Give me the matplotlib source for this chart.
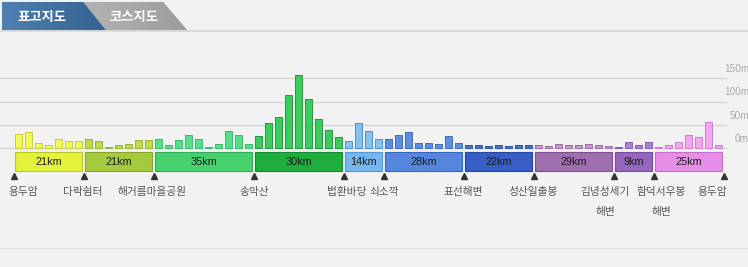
import matplotlib
matplotlib.use("Agg")
import matplotlib.pyplot as plt
from matplotlib.patches import Polygon
import numpy as np

plt.rcParams['font.family'] = ['Noto Sans CJK KR', 'DejaVu Sans']

# ---------------- data ----------------
elevations = [30, 34, 11, 6, 19, 15, 15,
              19, 15, 3, 6, 9, 17, 17,
              19, 6, 17, 27, 19, 3, 9, 37, 29, 9,
              25, 54, 66, 113, 157, 105, 62, 38, 24,
              14, 53, 36, 19,
              19, 29, 34, 10, 10, 8, 25, 10,
              6, 7, 4, 6, 4, 6, 6,
              6, 4, 9, 6, 6, 9, 6, 4,
              2, 12, 6, 12,
              2, 6, 12, 28, 24, 56, 6]
segment_km = ["21km", "21km", "35km", "30km", "14km", "28km", "22km", "29km", "9km", "25km"]
segment_bars = [7, 7, 10, 9, 4, 8, 7, 8, 4, 7]
stops = ["용두암", "다락쉼터", "해거름마을공원", "송악산", "법환바당", "쇠소깍",
         "표선해변", "성산일출봉", "김녕성세기\n해변", "함덕서우봉\n해변", "용두암"]
y_ticks = [0, 50, 100, 150]
y_tick_labels = ["0m", "50m", "100m", "150m"]
tab_labels = ["표고지도", "코스지도"]

# ---------------- styles ----------------
bar_face = ["#f2f85a", "#c2da4a", "#56de88", "#3ccc5e", "#86c2f0",
            "#5e8ee0", "#4676cc", "#c898d0", "#ae80d0", "#f6a6f0"]
bar_edge = ["#c8d036", "#9ab436", "#38be6c", "#1f9c3e", "#5090d0",
            "#3e6ebe", "#2e56a6", "#9c6ca6", "#8660ae", "#cc7ecc"]
band_face = ["#e4f23a", "#a6ca3e", "#46d06e", "#1eae3e", "#76b6ee",
             "#5686de", "#365ec6", "#9e6eae", "#9666be", "#e68ee6"]
band_edge = ["#bcc820", "#86a626", "#2eae56", "#108c2e", "#5696d6",
             "#3666be", "#2646a6", "#7e4e8e", "#764e9e", "#c46ec6"]
label_dx_px = [9.5, -1, -1.5, 0.5, 3.5, 0.5, 0, 0, -8, 7.5, -11.5]

BG = "#f1f2f1"
W, H = 748, 267
fig = plt.figure(figsize=(W / 100, H / 100), dpi=100, facecolor=BG)


def px_axes(x0, y0, x1, y1):
    ax = fig.add_axes([x0 / W, 1 - y1 / H, (x1 - x0) / W, (y1 - y0) / H])
    ax.set_facecolor("none")
    ax.axis("off")
    return ax


# overlay axes in pixel coordinates for decoration (tabs, frame lines)
deco = px_axes(0, 0, W, H)
deco.set_xlim(0, W)
deco.set_ylim(H, 0)
deco.plot([0, W], [30.7, 30.7], color="#d2d6d6", lw=1.2, solid_capstyle="butt")
deco.plot([0, W], [248, 248], color="#dfe1df", lw=0.8)
gray_tab = Polygon([(80, 2), (163, 2), (187, 30), (80, 30)], closed=True,
                   facecolor="#a7a7a7", edgecolor="none")
deco.add_patch(gray_tab)
grad = np.linspace(0, 1, 100).reshape(1, -1)
im = deco.imshow(grad, extent=(80, 187, 30, 2), cmap=matplotlib.colors.LinearSegmentedColormap.from_list(
    "g", ["#b4b4b4", "#9c9c9c"]), aspect="auto", zorder=2)
im.set_clip_path(gray_tab)
blue_tab = Polygon([(2, 2), (83, 2), (105.5, 30), (2, 30)], closed=True,
                   facecolor="#44729f", edgecolor="none", zorder=3)
deco.add_patch(blue_tab)
im2 = deco.imshow(grad, extent=(2, 106, 30, 2), cmap=matplotlib.colors.LinearSegmentedColormap.from_list(
    "b", ["#4f80b0", "#356393"]), aspect="auto", zorder=3)
im2.set_clip_path(blue_tab)
deco.text(42, 16.5, tab_labels[0], color="white", fontsize=9.6, fontweight="bold",
          ha="center", va="center", zorder=5)
deco.text(134, 16.5, tab_labels[1], color="white", fontsize=9.6, fontweight="bold",
          ha="center", va="center", zorder=5)
deco.set_xlim(0, W)
deco.set_ylim(H, 0)

# ---------------- elevation bars ----------------
PX_PER_M = (148 - 78.3) / 150.0
ax = px_axes(0, 60, W, 150)
xl = ((0 - 18.5) / 10, (W - 18.5) / 10)
ax.set_xlim(*xl)
ax.set_ylim(-2 / PX_PER_M, 88 / PX_PER_M)

for t, lab in zip(y_ticks, y_tick_labels):
    ax.axhline(t, xmin=0, xmax=726 / W, color="#d5d7d5", lw=1.0, zorder=0)
    ax.annotate(lab, xy=(1.0, t), xycoords=("axes fraction", "data"),
                xytext=(0.8, 3.0), textcoords="offset points", ha="right", va="bottom",
                fontsize=7.2, color="#aaaaaa", family=["Liberation Sans", "DejaVu Sans"])

colors_f, colors_e = [], []
for k, n in enumerate(segment_bars):
    colors_f += [bar_face[k]] * n
    colors_e += [bar_edge[k]] * n
x = np.arange(len(elevations))
ax.bar(x, elevations, width=0.7, color=colors_f, edgecolor=colors_e, linewidth=0.7, zorder=2)
# darker top cap
ax.bar(x, [1.6] * len(elevations), bottom=np.array(elevations) - 1.6, width=0.7,
       color=colors_e, linewidth=0, zorder=3)

# ---------------- segment band + stops ----------------
bx = px_axes(0, 150, W, 240)
bx.set_xlim(*xl)
bx.set_ylim(90, 0)
bounds = np.concatenate([[0], np.cumsum(segment_bars)]) - 0.5
for k, n in enumerate(segment_bars):
    left = bounds[k] + 0.15
    width = n - 0.3
    bx.bar(left, 18.4, bottom=2.3, width=width, align="edge", color=band_face[k],
           edgecolor=band_edge[k], linewidth=0.8)
    bx.text(left + width / 2, 11.6, segment_km[k], ha="center", va="center",
            fontsize=7.8, color="#1e1e1e", family=["Liberation Sans", "DejaVu Sans"])

bx.plot(bounds, [26] * len(bounds), linestyle="none", marker="^", markersize=4.6,
        color="#333333")
for b, name, dx in zip(bounds, stops, label_dx_px):
    for j, line in enumerate(name.split("\n")):
        bx.text(b + dx / 10, 41.7 + 20 * j, line, ha="center", va="center",
                fontsize=7.7, color="#555555")

fig.savefig("out.png", dpi=100, facecolor=BG)
